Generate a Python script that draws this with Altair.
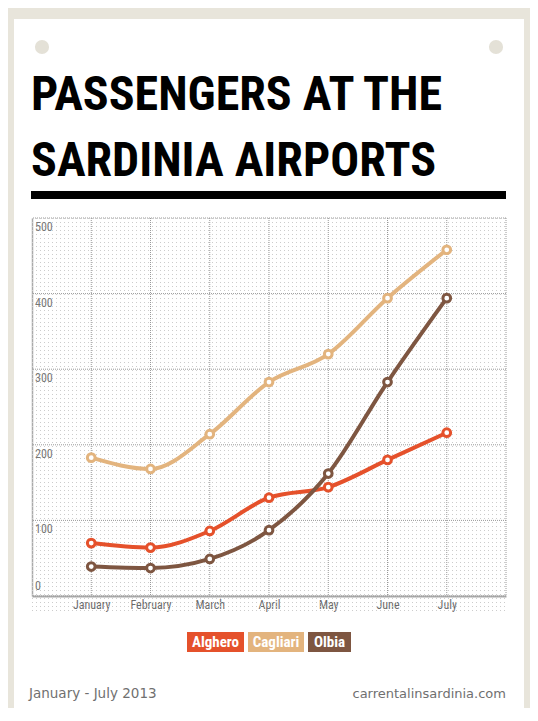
import altair as alt
import pandas as pd

# ---- data ----
months = ["January", "February", "March", "April", "May", "June", "July"]
series_names = ["Alghero", "Cagliari", "Olbia"]
alghero = [70, 64, 86, 130, 144, 180, 216]
cagliari = [183, 168, 214, 283, 320, 394, 458]
olbia = [39, 37, 49, 87, 162, 283, 394]
y_ticks = [0, 100, 200, 300, 400, 500]
title_lines = ["PASSENGERS AT THE", "SARDINIA AIRPORTS"]
footer_left = "January - July 2013"
footer_right = "carrentalinsardinia.com"

# ---- styles ----
colors = ["#e5512b", "#e3b47e", "#7e5641"]
beige = "#e8e5db"
narrow = "Roboto Condensed, Open Sans Condensed, DejaVu Sans Condensed, Liberation Sans Narrow, Roboto, sans-serif"
W, H = 474, 378

rows = []
for name, vals in zip(series_names, [alghero, cagliari, olbia]):
    for m, v in zip(months, vals):
        rows.append({"month": m, "series": name, "value": v})
df = pd.DataFrame(rows)
one = pd.DataFrame({"a": [0]})

x_scale = alt.Scale(type="point", domain=months, padding=1)
y_scale = alt.Scale(domain=[0, 500], nice=False, zero=True)
x_axis = alt.Axis(title=None, labelFont=narrow, labelFontSize=12, labelColor="#6b6b6b",
                  labelPadding=3, ticks=False, grid=False, labelAngle=0,
                  domainColor="#aaa", domainWidth=2)
y_axis = alt.Axis(title=None, labels=False, ticks=False, grid=False,
                  domainColor="#aaa", domainWidth=1.5)
col_scale = alt.Scale(domain=series_names, range=colors)


def rect(x, x2, y, y2, color):
    return alt.Chart(one).mark_rect(color=color).encode(
        x=alt.value(x), x2=alt.value(x2), y=alt.value(y), y2=alt.value(y2))


layers = []
# beige page edges
layers.append(rect(-24, -18, -210, H + 112, beige))
layers.append(rect(492, 498, -210, H + 112, beige))
layers.append(rect(-24, 498, -210, -199, beige))
# pin holes
for px in (10, 464):
    layers.append(alt.Chart(one).mark_circle(size=201, color="#e4e1d7", opacity=1).encode(
        x=alt.value(px), y=alt.value(-171)))
# title
layers.append(alt.Chart(one).mark_text(
    text=title_lines, align="left", baseline="alphabetic", font=narrow,
    fontSize=48, fontWeight="bold", color="#000", lineHeight=66).encode(
    x=alt.value(-1), y=alt.value(-108)))
# bar under title
layers.append(rect(-1, 474, -27, -19, "#000"))

# dotted background texture
layers.append(alt.Chart(alt.sequence(0.5, 396, 4, as_="v")).mark_rule(
    strokeDash=[1, 3], color="#cccccc", strokeWidth=1).encode(
    y=alt.Y("v:Q", scale=None), x=alt.value(0), x2=alt.value(W)))

# major grid
layers.append(alt.Chart(pd.DataFrame({"v": y_ticks})).mark_rule(
    color="#999", strokeDash=[1, 1], strokeWidth=1).encode(
    y=alt.Y("v:Q", scale=y_scale, axis=y_axis)))
layers.append(alt.Chart(pd.DataFrame({"m": months})).mark_rule(
    color="#999", strokeDash=[1, 1], strokeWidth=1).encode(
    x=alt.X("m:N", scale=x_scale, axis=x_axis)))
layers.append(alt.Chart(one).mark_rule(color="#999", strokeDash=[1, 1], strokeWidth=1).encode(
    x=alt.value(W), y=alt.value(0), y2=alt.value(H)))

# series
layers.append(alt.Chart(df).mark_line(interpolate="monotone", strokeWidth=4).encode(
    x=alt.X("month:N", scale=x_scale, axis=x_axis),
    y=alt.Y("value:Q", scale=y_scale, axis=y_axis),
    color=alt.Color("series:N", scale=col_scale, legend=None)))
layers.append(alt.Chart(df).mark_circle(size=60, fill="white", fillOpacity=1, opacity=1,
                                        strokeWidth=3).encode(
    x=alt.X("month:N", scale=x_scale, axis=x_axis),
    y=alt.Y("value:Q", scale=y_scale, axis=y_axis),
    stroke=alt.Stroke("series:N", scale=col_scale, legend=None)))

# y labels inside the plot
ylab = alt.Chart(pd.DataFrame({"v": y_ticks}))
layers.append(ylab.transform_filter("datum.v > 0").mark_text(
    align="left", baseline="top", dx=3, dy=4, font=narrow, fontSize=12, color="#777").encode(
    x=alt.value(0), y=alt.Y("v:Q", scale=y_scale, axis=y_axis), text="v:Q"))
layers.append(ylab.transform_filter("datum.v == 0").mark_text(
    align="left", baseline="bottom", dx=3, dy=-3, font=narrow, fontSize=12, color="#777").encode(
    x=alt.value(0), y=alt.Y("v:Q", scale=y_scale, axis=y_axis), text="v:Q"))

# custom legend
legend_boxes = [(155, 212), (216, 272), (276, 319)]
for name, col, (x0, x1) in zip(series_names, colors, legend_boxes):
    layers.append(rect(x0, x1, 414, 434, col))
    layers.append(alt.Chart(one).mark_text(
        text=name, align="center", baseline="middle", font=narrow, fontSize=15,
        fontWeight="bold", color="white").encode(
        x=alt.value((x0 + x1) / 2), y=alt.value(424)))

# footer
layers.append(alt.Chart(one).mark_text(
    text=footer_left, align="left", baseline="alphabetic", font="DejaVu Sans",
    fontSize=13.5, color="#707070").encode(x=alt.value(-3), y=alt.value(480)))
layers.append(alt.Chart(one).mark_text(
    text=footer_right, align="right", baseline="alphabetic", font="DejaVu Sans",
    fontSize=13, color="#707070").encode(x=alt.value(W), y=alt.value(480)))

chart = alt.layer(*layers).properties(
    width=W, height=H,
    autosize=alt.AutoSizeParams(type="none"),
    padding={"left": 24, "top": 210, "right": 24, "bottom": 112},
    background="#ffffff",
).configure_view(stroke=None)

chart.save("out.html", embed_options={"renderer": "svg", "actions": False})
